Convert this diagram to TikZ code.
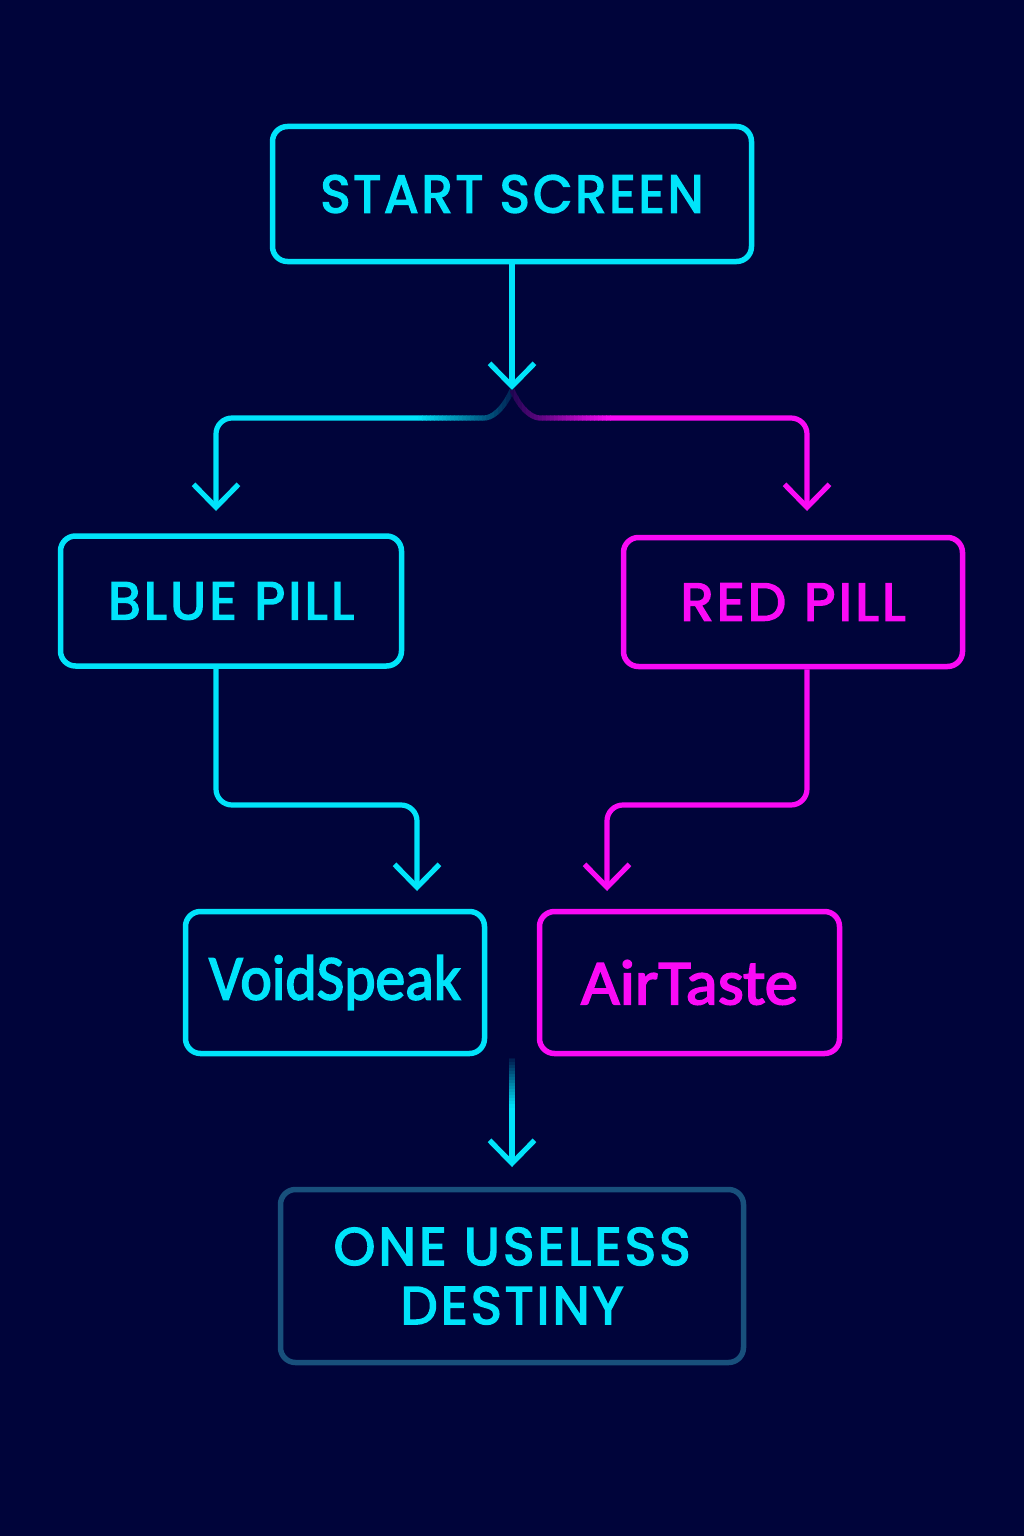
\documentclass[tikz,border=0pt]{standalone}
\usepackage{fontspec}
\usepackage{graphicx}
\usetikzlibrary{arrows.meta,calc}
\newfontfamily\capsfont[LetterSpace=6,FakeBold=3]{Poppins}
\newfontfamily\humfont[FakeBold=2.5]{Carlito}
\definecolor{bg}{RGB}{0,4,58}
\definecolor{cy}{RGB}{0,228,250}
\definecolor{mg}{RGB}{250,10,245}
\definecolor{dimcy}{RGB}{24,80,124}
\newcommand{\fitw}[2]{\resizebox{#1}{\height}{#2}}
\newcommand{\lbranch}{(split) .. controls (503,410) and (492,418) .. (468,418) -- (216,418) -- (tipBL)}
\newcommand{\rbranch}{(split) .. controls (521,410) and (532,418) .. (556,418) -- (807,418) -- (tipBR)}
\begin{document}
\begin{tikzpicture}[x=1pt,y=-1pt,
  box/.style={draw, rounded corners=15pt, line width=5.5pt, inner sep=0pt},
  capstxt/.style={font=\capsfont\fontsize{53}{59}\selectfont, align=center},
  humtxt/.style={font=\humfont\fontsize{64}{70}\selectfont},
  conn/.style={line width=5.2pt, rounded corners=16pt},
  vtip/.style={-{Straight Barb[length=23pt,width=45pt]}},
]
\fill[bg] (0,0) rectangle (1024,1536);
\useasboundingbox (0,0) rectangle (1024,1536);

% boxes
\node[box, cy, text=cy, capstxt, minimum width=479pt, minimum height=135pt] (start) at (512,194) {\fitw{383pt}{START SCREEN}};
\node[box, cy, text=cy, capstxt, minimum width=341pt, minimum height=130pt] (blue) at (231,601) {\fitw{246pt}{BLUE PILL}};
\node[box, mg, text=mg, capstxt, minimum width=339pt, minimum height=129pt] (red) at (793,602) {\fitw{225pt}{RED PILL}};
\node[box, cy, text=cy, humtxt, minimum width=299pt, minimum height=142pt] (void) at (335,982.5) {\fitw{252pt}{VoidSpeak}};
\node[box, mg, text=mg, humtxt, minimum width=300pt, minimum height=142pt] (air) at (689.5,982.5) {\fitw{217pt}{AirTaste}};
\node[box, dimcy, text=cy, capstxt, minimum width=463pt, minimum height=173pt] (dest) at (512,1276) {\fitw{357pt}{ONE USELESS}\\\fitw{223pt}{DESTINY}};

% coordinates
\coordinate (split) at (512,390);
\coordinate (tipBL) at (216,511);
\coordinate (tipBR) at (807,511);
\coordinate (tipV) at (417,891);
\coordinate (tipA) at (607,891);
\coordinate (merge) at (512,1058);
\coordinate (tipD) at (512,1167);

% start -> split
\draw[cy, conn, vtip] (start.south) -- (split);

% left branch (cyan, fading toward center)
\begin{scope}
  \clip (0,300) rectangle (418,600);
  \draw[cy, conn, vtip] \lbranch;
\end{scope}
\foreach \i in {0,...,23}{
  \pgfmathsetmacro{\xa}{418+4*\i}
  \pgfmathsetmacro{\xb}{422.6+4*\i}
  \pgfmathtruncatemacro{\p}{100-88*(\i+0.5)/24}
  \begin{scope}
    \clip (\xa,300) rectangle (\xb,600);
    \draw[cy!\p!bg, conn] \lbranch;
  \end{scope}
}

% right branch (magenta, fading toward center)
\begin{scope}
  \clip (610,300) rectangle (1024,600);
  \draw[mg, conn, vtip] \rbranch;
\end{scope}
\foreach \i in {0,...,24}{
  \pgfmathsetmacro{\xa}{510+4*\i}
  \pgfmathsetmacro{\xb}{514.6+4*\i}
  \pgfmathtruncatemacro{\p}{12+88*(\i+0.5)/25}
  \begin{scope}
    \clip (\xa,300) rectangle (\xb,600);
    \draw[mg!\p!bg, conn] \rbranch;
  \end{scope}
}

% blue pill -> VoidSpeak
\draw[cy, conn, vtip] (blue.south -| tipBL) -- (216,805) -- (417,805) -- (tipV);
% red pill -> AirTaste
\draw[mg, conn, vtip] (red.south -| tipBR) -- (807,805) -- (607,805) -- (tipA);

% merge -> destiny (fading in)
\begin{scope}
  \clip (400,1108) rectangle (624,1200);
  \draw[cy, line width=5.2pt, vtip] (merge) -- (tipD);
\end{scope}
\foreach \i in {0,...,16}{
  \pgfmathsetmacro{\ya}{1056+3*\i}
  \pgfmathsetmacro{\yb}{1059.6+3*\i}
  \pgfmathtruncatemacro{\p}{5+95*(\i+0.5)/17}
  \begin{scope}
    \clip (490,\ya) rectangle (534,\yb);
    \draw[cy!\p!bg, line width=5.2pt] (merge) -- (tipD);
  \end{scope}
}
\end{tikzpicture}
\end{document}
